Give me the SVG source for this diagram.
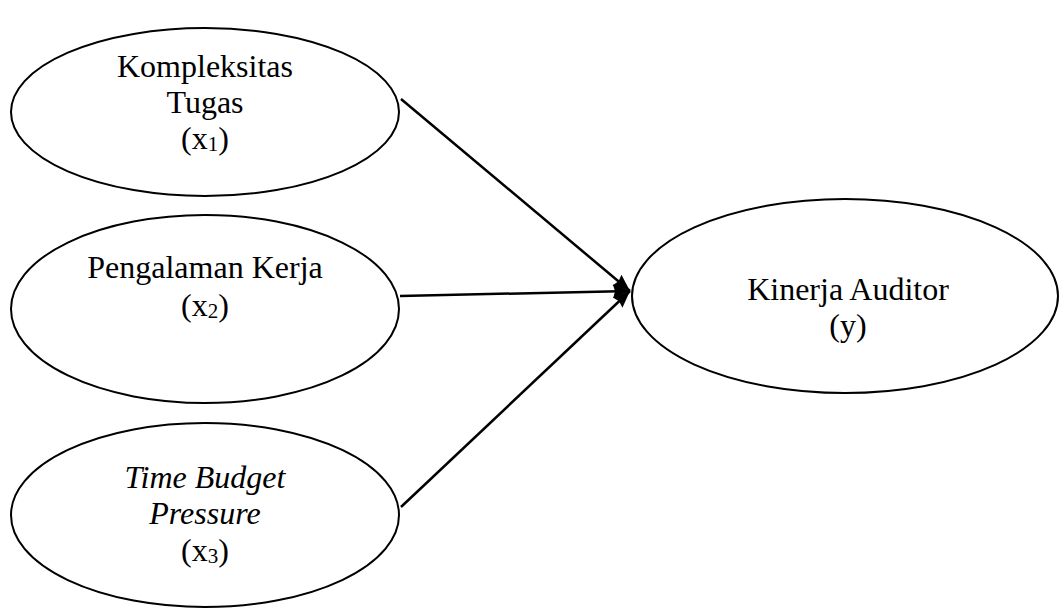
<svg xmlns="http://www.w3.org/2000/svg" width="1059" height="609" viewBox="0 0 1059 609">
<style>
.node{fill:#fff;stroke:#000;stroke-width:2}
.t{font-family:"Liberation Serif","Times New Roman",serif;font-size:32px;fill:#000;text-anchor:middle}
.i{font-style:italic}
.sub{font-size:21px}
.c{stroke:#000;stroke-width:2.5;fill:none}
</style>
<defs>
<marker id="ah" markerUnits="userSpaceOnUse" markerWidth="20" markerHeight="16" refX="17" refY="8" orient="auto">
<path d="M0,1 L17,8 L0,15 L2,8 Z" fill="#000"/>
</marker>
</defs>
<rect width="1059" height="609" fill="#fff"/>
<g id="n1">
<ellipse class="node" cx="205" cy="112" rx="194" ry="84"/>
<text class="t" x="205" y="77">Kompleksitas</text>
<text class="t" x="205" y="113">Tugas</text>
<text class="t" x="205" y="149">(x<tspan class="sub" dy="2">1</tspan><tspan dy="-2">)</tspan></text>
</g>
<g id="n2">
<ellipse class="node" cx="205" cy="309" rx="194" ry="94"/>
<text class="t" x="205" y="278">Pengalaman Kerja</text>
<text class="t" x="205" y="316">(x<tspan class="sub" dy="2">2</tspan><tspan dy="-2">)</tspan></text>
</g>
<g id="n3">
<ellipse class="node" cx="205" cy="515" rx="194" ry="92"/>
<text class="t i" x="205" y="488">Time Budget</text>
<text class="t i" x="205" y="524">Pressure</text>
<text class="t" x="205" y="561">(x<tspan class="sub" dy="2">3</tspan><tspan dy="-2">)</tspan></text>
</g>
<g id="n4">
<ellipse class="node" cx="845" cy="296" rx="213" ry="97"/>
<text class="t" x="848" y="300">Kinerja Auditor</text>
<text class="t" x="848" y="336">(y)</text>
</g>
<g id="connectors">
<line class="c" x1="401" y1="99" x2="630" y2="291" marker-end="url(#ah)"/>
<line class="c" x1="400" y1="296" x2="630" y2="291" marker-end="url(#ah)"/>
<line class="c" x1="401" y1="507" x2="630" y2="291" marker-end="url(#ah)"/>
</g>
</svg>
